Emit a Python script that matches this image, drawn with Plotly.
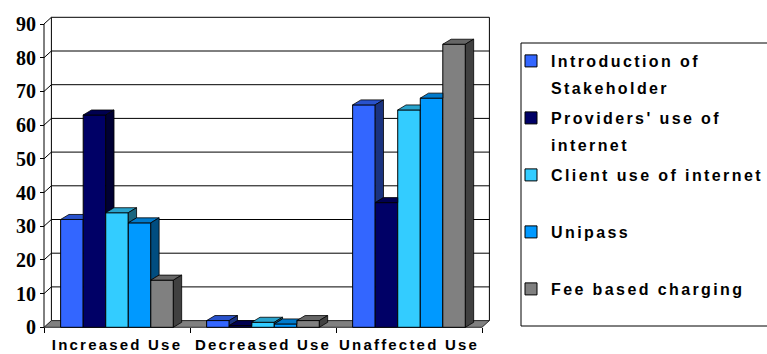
import plotly.graph_objects as go

# ---------------- data ----------------
categories = ["Increased Use", "Decreased Use", "Unaffected Use"]
series_names = ["Introduction of<br>Stakeholder", "Providers' use of<br>internet",
                "Client use of internet", "Unipass", "Fee based charging"]
intro = [32, 2, 66]
providers = [63, 0.5, 37]
client = [34, 1.5, 64.5]
unipass = [31, 1, 68]
fee = [14, 2, 84]
y_ticks = [0, 10, 20, 30, 40, 50, 60, 70, 80, 90]

series_values = [intro, providers, client, unipass, fee]
front_colors = ["#3366FF", "#000066", "#33CCFF", "#0099FF", "#808080"]
top_colors = ["#2952CC", "#000050", "#29A3CC", "#007ACC", "#666666"]
side_colors = ["#1A3380", "#000033", "#1A6680", "#004D80", "#404040"]

# ---------------- geometry / layout constants ----------------
FIG_W, FIG_H = 767, 354
L, R_EDGE, T, B_EDGE = 40, 493, 14, 331          # plot area in px
AX_X_PX, AX_Y_PX = 44, 327.3                      # front axes position in px
PX_PER_CAT, PX_PER_UNIT = 146.0, 3.37
BARGAP = 0.228
NS = len(series_values)
BW = (1 - BARGAP) / NS
DXB, DYB = 8.3 / PX_PER_CAT, 5.0 / PX_PER_UNIT    # bar depth offset
DXW, DYW = 7.4 / PX_PER_CAT, 6.7 / PX_PER_UNIT    # wall depth offset

xr = [-0.5 - (AX_X_PX - L) / PX_PER_CAT, -0.5 + (R_EDGE - AX_X_PX) / PX_PER_CAT]
yr = [-(B_EDGE - AX_Y_PX) / PX_PER_UNIT, (AX_Y_PX - T) / PX_PER_UNIT]
ncat = len(categories)
XL, XR = -0.5, ncat - 0.5
YTOP = y_ticks[-1]

fig = go.Figure()

# front faces (real bars)
for j, (name, vals) in enumerate(zip(series_names, series_values)):
    label = name if "<br>" in name else name + "<br> "
    fig.add_trace(go.Bar(
        x=list(range(ncat)), y=vals, name=label, legendgroup=f"g{j}",
        marker=dict(color=front_colors[j], line=dict(color="black", width=1)),
        hovertext=[f"{categories[i]}: {v}" for i, v in enumerate(vals)],
        hoverinfo="text",
    ))

# 3-D top and side faces computed from the same values
for j, vals in enumerate(series_values):
    tx, ty, sx, sy = [], [], [], []
    for i, v in enumerate(vals):
        x0 = i - (1 - BARGAP) / 2 + j * BW
        x1 = x0 + BW
        u = series_values[j + 1][i] if j + 1 < NS else 0
        # top face (clipped by the right neighbour's front face)
        if u <= v:
            pts = [(x0, v), (x1, v), (x1 + DXB, v + DYB), (x0 + DXB, v + DYB)]
        elif u >= v + DYB:
            pts = [(x0, v), (x1, v), (x1, v + DYB), (x0 + DXB, v + DYB)]
        else:
            c = u - v
            pts = [(x0, v), (x1, v), (x1, u), (x1 + c / DYB * DXB, u),
                   (x1 + DXB, v + DYB), (x0 + DXB, v + DYB)]
        pts.append(pts[0])
        tx += [p[0] for p in pts] + [None]
        ty += [p[1] for p in pts] + [None]
        # side face (visible above the neighbour)
        if v > u:
            pts = [(x1, u), (x1 + DXB, u + DYB), (x1 + DXB, v + DYB), (x1, v), (x1, u)]
            sx += [p[0] for p in pts] + [None]
            sy += [p[1] for p in pts] + [None]
    fig.add_trace(go.Scatter(x=tx, y=ty, mode="lines", fill="toself",
                             fillcolor=top_colors[j], line=dict(color="black", width=0.8),
                             hoverinfo="skip", showlegend=False))
    if sx:
        fig.add_trace(go.Scatter(x=sx, y=sy, mode="lines", fill="toself",
                                 fillcolor=side_colors[j], line=dict(color="black", width=0.8),
                                 hoverinfo="skip", showlegend=False))

# walls, gridlines, floor
shapes = []
line_k = dict(color="black", width=1)
for g in y_ticks[1:]:
    shapes.append(dict(type="line", xref="x", yref="y", x0=XL, y0=g, x1=XL + DXW, y1=g + DYW,
                       line=line_k, layer="below"))
    shapes.append(dict(type="line", xref="x", yref="y", x0=XL + DXW, y0=g + DYW, x1=XR + DXW, y1=g + DYW,
                       line=line_k, layer="below"))
shapes.append(dict(type="line", xref="x", yref="y", x0=XL + DXW, y0=DYW, x1=XL + DXW, y1=YTOP + DYW,
                   line=line_k, layer="below"))
shapes.append(dict(type="line", xref="x", yref="y", x0=XR + DXW, y0=DYW, x1=XR + DXW, y1=YTOP + DYW,
                   line=line_k, layer="below"))
shapes.append(dict(type="line", xref="x", yref="y", x0=XL, y0=0, x1=XL, y1=YTOP,
                   line=line_k, layer="below"))
shapes.append(dict(type="path", xref="x", yref="y",
                   path=f"M{XL},0 L{XR},0 L{XR + DXW},{DYW} L{XL + DXW},{DYW} Z",
                   fillcolor="#808080", line=dict(color="black", width=0.8), layer="below"))
# legend frame
pw, ph = R_EDGE - L, B_EDGE - T
shapes.append(dict(type="rect", xref="paper", yref="paper",
                   x0=(521 - L) / pw, x1=(770 - L) / pw,
                   y0=(B_EDGE - 326) / ph, y1=(B_EDGE - 43) / ph,
                   line=dict(color="black", width=1), fillcolor="rgba(0,0,0,0)"))

fig.update_layout(
    width=FIG_W, height=FIG_H,
    margin=dict(l=L, r=FIG_W - R_EDGE, t=T, b=FIG_H - B_EDGE, pad=0, autoexpand=False),
    paper_bgcolor="white", plot_bgcolor="white",
    barmode="group", bargap=BARGAP, bargroupgap=0,
    shapes=shapes,
    showlegend=True,
    legend=dict(x=(511 - L) / pw, y=(B_EDGE - 44) / ph, xanchor="left", yanchor="top",
                bgcolor="rgba(0,0,0,0)", borderwidth=0, traceorder="grouped",
                valign="top", tracegroupgap=12.4,
                font=dict(family="Arial, Liberation Sans, sans-serif", size=16,
                          color="black", weight="bold")),
    xaxis=dict(range=xr, tickmode="array", tickvals=list(range(ncat)), ticktext=categories,
               ticks="", showgrid=False, zeroline=False, showline=False,
               anchor="free", position=(B_EDGE - AX_Y_PX) / ph, ticklabelstandoff=7,
               tickfont=dict(family="Arial, Liberation Sans, sans-serif", size=15,
                             color="black", weight="bold"),
               minor=dict(tickmode="array", tickvals=[k - 0.5 for k in range(ncat + 1)],
                          ticks="outside", ticklen=5, tickcolor="black", tickwidth=1,
                          showgrid=False),
               fixedrange=True),
    yaxis=dict(range=yr, tickmode="array", tickvals=y_ticks, ticks="outside", ticklen=4,
               tickcolor="black", tickwidth=1, showgrid=False, zeroline=False, showline=False,
               anchor="free", position=(AX_X_PX - L) / pw,
               tickfont=dict(family="Times New Roman, Liberation Serif, serif", size=20,
                             color="black", weight="bold"),
               fixedrange=True),
)

post = """
var gd = document.getElementById('{plot_id}');
gd.querySelectorAll('.legend .scrollbox, .legend').forEach(function(e){ e.removeAttribute('clip-path'); e.style.clipPath = 'none'; });
gd.querySelectorAll('.legendtext').forEach(function(t){
  t.style.letterSpacing = '2.4px';
  t.querySelectorAll('tspan.line').forEach(function(s, i){ if (i > 0) s.setAttribute('dy', (i * 1.69) + 'em'); });
});
gd.querySelectorAll('.xtick text').forEach(function(t){ t.style.letterSpacing = '2.2px'; });
"""

fig.write_html("out.html", post_script=post, config={"displayModeBar": False})
